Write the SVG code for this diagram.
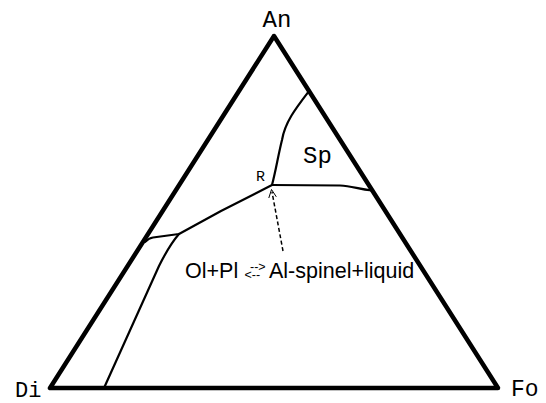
<svg xmlns="http://www.w3.org/2000/svg" width="546" height="403" viewBox="0 0 546 403">
<style>
.mono{font-family:"Liberation Mono","DejaVu Sans Mono",monospace;fill:#000}
.sans{font-family:"Liberation Sans",Arial,sans-serif;fill:#000}
.bound{fill:none;stroke:#000;stroke-width:2.2;stroke-linejoin:round;stroke-linecap:round}
</style>
<rect width="546" height="403" fill="#fff"/>
<g id="triangle">
<path d="M274,36 L50,388 L498,388 Z" fill="none" stroke="#000" stroke-width="4.5" stroke-linejoin="round"/>
</g>
<g id="labels">
<text class="mono" x="277" y="27" font-size="24" text-anchor="middle">An</text>
<text class="mono" x="15" y="397" font-size="22">Di</text>
<text class="mono" x="511" y="396" font-size="23">Fo</text>
<text class="mono" x="303" y="163" font-size="24">Sp</text>
<text class="mono" x="256" y="181" font-size="15">R</text>
</g>
<g id="connectors">
<path class="bound" d="M309,91 C296,108 285,122 282,140 C278,156 276,170 272,185"/>
<path class="bound" d="M272,185 L340,185.5 C352,186 358,189 372,190.5"/>
<path class="bound" d="M272,185 L221,211 L179,234 L153,237.5 C149,238 147,240 145,242"/>
<path class="bound" d="M179,234 C172,242 166,252 159,266 L104,388"/>
<path d="M283,251 L272,192" fill="none" stroke="#000" stroke-width="1.5" stroke-dasharray="4,2.5"/>
<path d="M268.8,198 L271.5,189.5 L276.3,196.8" fill="none" stroke="#000" stroke-width="1"/>
</g>
<g id="reaction">
<text class="sans" x="185" y="278" font-size="21.5">Ol+Pl</text>
<text class="sans" font-size="12.5"><tspan x="250" y="271">--&gt;</tspan><tspan x="244.5" y="279">&lt;--</tspan></text>
<text class="sans" x="269" y="278" font-size="21.5">Al-spinel+liquid</text>
</g>
</svg>
